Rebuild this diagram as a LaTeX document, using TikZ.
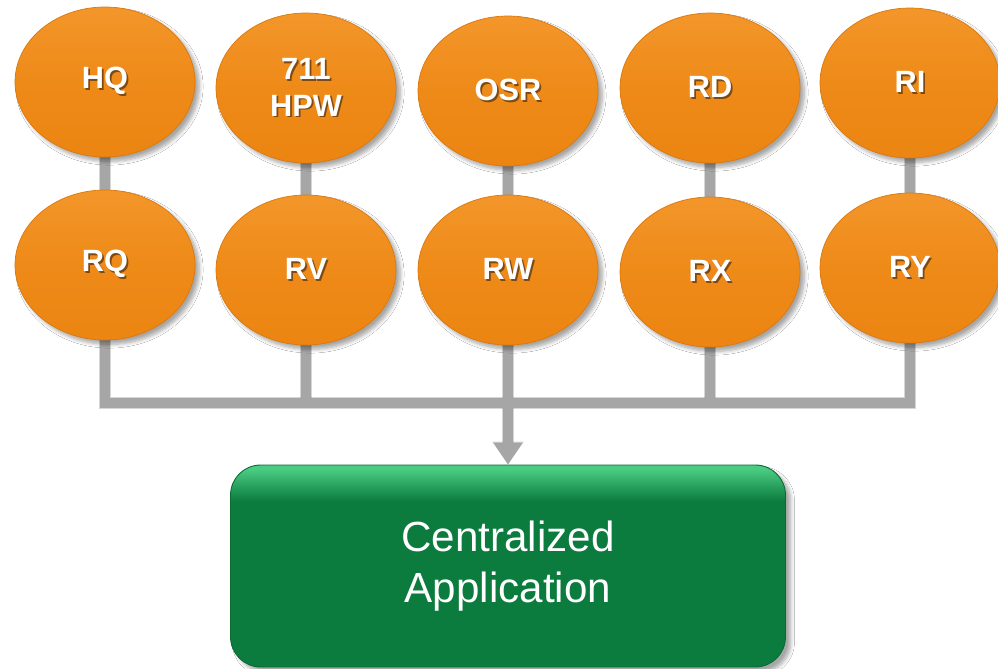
\documentclass[tikz,border=0pt]{standalone}
\usepackage{fontspec}
\setmainfont{Liberation Sans}
\usetikzlibrary{shapes.geometric,shadows.blur,arrows.meta,backgrounds}

\definecolor{orangeTop}{HTML}{F3962A}
\definecolor{orangeMid}{HTML}{EE8A18}
\definecolor{orangeBot}{HTML}{EC8512}
\definecolor{orangeEdge}{HTML}{DB780C}
\definecolor{greenTop}{HTML}{4ACB82}
\definecolor{greenMain}{HTML}{0B7B3E}
\definecolor{greenEdge}{HTML}{0A6A33}
\definecolor{linkGray}{HTML}{A6A6A6}
\definecolor{labelShade}{HTML}{7E4A14}

% dark green body with a thin light band along the top edge
% (the node's box covers 25bp..75bp of the shading)
\pgfdeclareverticalshading{appshade}{100bp}{%
  color(0bp)=(greenMain); color(66bp)=(greenMain);
  color(74bp)=(greenTop); color(100bp)=(greenTop)}

% bold white label with a small drop shadow
\newcommand{\droplabel}[1]{{\rlap{\kern1pt\raisebox{-1pt}{\color{labelShade}#1}}#1}}

\tikzset{
  site/.style={ellipse, minimum width=3.6cm, minimum height=3cm,
    draw=orangeEdge, line width=0.4pt,
    top color=orangeTop, bottom color=orangeBot, middle color=orangeMid,
    blur shadow={shadow xshift=2.5pt, shadow yshift=-2.5pt, shadow blur steps=6, shadow opacity=35},
    text=white, font=\fontsize{17.5}{21}\selectfont\bfseries, align=center},
  appbox/.style={rectangle, rounded corners=0.6cm, minimum width=11.1cm, minimum height=4.04cm,
    draw=greenEdge, line width=0.5pt, shading=appshade,
    blur shadow={shadow xshift=3pt, shadow yshift=-3pt, shadow blur steps=6, shadow opacity=35},
    text=white, font=\fontsize{24}{29}\selectfont, align=center},
  link/.style={draw=linkGray, line width=0.2cm},
  linkshade/.style={draw=black, opacity=0.16, line width=0.24cm},
}

\begin{document}
\begin{tikzpicture}[x=0.02cm, y=-0.02cm]
  \useasboundingbox (0,0) rectangle (998,669);

  % upper row of sites
  \node[site] (HQ)  at (105,82) {\droplabel{HQ}};
  \node[site] (HPW) at (306,88) {\droplabel{711}\\\droplabel{HPW}};
  \node[site] (OSR) at (508,91) {\droplabel{OSR}};
  \node[site] (RD)  at (710,88) {\droplabel{RD}};
  \node[site] (RI)  at (910,83) {\droplabel{RI}};

  % lower row of sites
  \node[site] (RQ) at (105,265) {\droplabel{RQ}};
  \node[site] (RV) at (306,270) {\droplabel{RV}};
  \node[site] (RW) at (508,270) {\droplabel{RW}};
  \node[site] (RX) at (710,272) {\droplabel{RX}};
  \node[site] (RY) at (910,268) {\droplabel{RY}};

  % central application
  \node[appbox] (app) at (508,566) {Centralized\\Application};

  \coordinate (bus) at (508,403);

  \begin{scope}[on background layer]
    \fill[white] (0,0) rectangle (998,669);
    % shadows of the links
    \begin{scope}[shift={(3,3)}]
      \draw[linkshade] (HQ.center) -- (RQ.center);
      \draw[linkshade] (HPW.center) -- (RV.center);
      \draw[linkshade] (OSR.center) -- (RW.center);
      \draw[linkshade] (RD.center) -- (RX.center);
      \draw[linkshade] (RI.center) -- (RY.center);
      \draw[linkshade] (RQ.center) |- (bus) -| (RY.center);
      \draw[linkshade] (RV.center) -- (RV |- bus);
      \draw[linkshade] (RX.center) -- (RX |- bus);
      \draw[linkshade, -{Triangle[width=0.6cm, length=0.46cm]}] (RW.center) -- (app.north);
    \end{scope}
    % links between the two rows
    \draw[link] (HQ.center) -- (RQ.center);
    \draw[link] (HPW.center) -- (RV.center);
    \draw[link] (OSR.center) -- (RW.center);
    \draw[link] (RD.center) -- (RX.center);
    \draw[link] (RI.center) -- (RY.center);
    % collecting bus
    \draw[link] (RQ.center) |- (bus) -| (RY.center);
    \draw[link] (RV.center) -- (RV |- bus);
    \draw[link] (RX.center) -- (RX |- bus);
    % feed into the application
    \draw[link, -{Triangle[width=0.56cm, length=0.44cm]}] (RW.center) -- (app.north);
  \end{scope}
\end{tikzpicture}
\end{document}
